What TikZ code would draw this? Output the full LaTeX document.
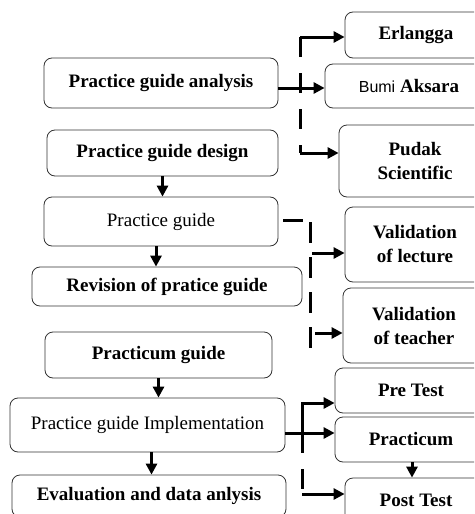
\documentclass[tikz,border=0pt]{standalone}
\usepackage{fontspec}
\setmainfont{Liberation Serif}
\newfontfamily\bumifont{Liberation Sans}
\usetikzlibrary{arrows.meta,positioning}
\tikzset{
  stage/.style={draw=black!80, line width=0.8pt, rounded corners=8pt, align=center,
    inner sep=0pt, font=\fontsize{19}{24}\selectfont\bfseries},
  plain/.style={font=\fontsize{19}{24}\selectfont},
  bus/.style={line width=3pt},
  busdash/.style={bus, dash pattern=on 20pt off 16pt},
  arrow/.style={bus, -{Triangle[length=11pt,width=11pt]}}
}
\begin{document}
\begin{tikzpicture}[x=1pt, y=-1pt]
            \useasboundingbox (0,0) rectangle (474,514);
            \clip (0,0) rectangle (474,514);
            % left column
            \node(an) [stage, minimum width=234pt, minimum height=50pt] at (161,83) {Practice guide analysis};
            \node(de) [stage, minimum width=231pt, minimum height=46pt] at (162.5,153) {Practice guide design};
            \node(pg) [stage, plain, minimum width=234pt, minimum height=49pt] at (161,221.5) {Practice guide};
            \node(rv) [stage, minimum width=270pt, minimum height=39pt] at (167,286.5) {Revision of pratice guide};
            \node(pcg) [stage, minimum width=227pt, minimum height=46pt] at (158.5,355) {Practicum guide};
            \node(im) [stage, plain, minimum width=275pt, minimum height=54pt] at (147.5,425) {Practice guide Implementation};
            \node(ev) [stage, minimum width=274pt, minimum height=42pt] at (149,496) {Evaluation and data anlysis};
            % right column
            \node(erl) [stage, minimum width=142pt, minimum height=46pt] at (416,35) {Erlangga};
            \node(bumi) [stage, minimum width=168pt, minimum height=44pt] at (409,86) {{\bumifont\mdseries\fontsize{16}{20}\selectfont Bumi} Aksara};
            \node(pud) [stage, minimum width=152pt, minimum height=72pt] at (415,161) {Pudak\\Scientific};
            \node(vl) [stage, minimum width=140pt, minimum height=75pt] at (415,244.5) {Validation\\of lecture};
            \node(vt) [stage, minimum width=142pt, minimum height=75pt] at (414,325.5) {Validation\\of teacher};
            \node(pre) [stage, minimum width=152pt, minimum height=45pt] at (411,390.5) {Pre Test};
            \node(prac) [stage, minimum width=152pt, minimum height=45pt] at (411,439.5) {Practicum};
            \node(post) [stage, minimum width=142pt, minimum height=44pt] at (416,500) {Post Test};
            % down arrows
            \draw[arrow](de.south) to (de.south |- pg.north);
            \draw[arrow]([xshift=-5pt]pg.south) to ([xshift=-5pt]pg.south |- rv.north);
            \draw[arrow](pcg.south) to (pcg.south |- im.north);
            \draw[arrow]([xshift=4pt]im.south) to ([xshift=4pt]im.south |- ev.north);
            \draw[arrow]([xshift=-4pt]post.north |- prac.south) to ([xshift=-4pt]post.north);
            % books
            \coordinate(u0) at (300,88);
            \coordinate(u1) at (300,37);
            \coordinate(u2) at (300,153);
            \draw[busdash](u1) -- (u2);
            \draw[arrow](an.east |- u0) to (bumi.west |- u0);
            \draw[arrow](u1) to (erl.west |- u1);
            \draw[arrow](u2) to (pud.west |- u2);
            % validation
            \coordinate(m0) at (303,220);
            \coordinate(m1) at (310,222);
            \coordinate(m2) at (310,348);
            \coordinate(m3) at (312,253);
            \coordinate(m4) at (315,333);
            \draw[bus]([xshift=5pt]pg.east |- m0) -- (m0);
            \draw[bus, dash pattern=on 21pt off 14pt](m1) -- (m2);
            \draw[arrow](m3) to (vl.west |- m3);
            \draw[arrow](m4) to (vt.west |- m4);
            % implementation
            \coordinate(l0) at (302,433);
            \coordinate(l1) at (302,403);
            \coordinate(l2) at (302,494);
            \draw[arrow](im.east |- l0) to (prac.west |- l0);
            \draw[arrow](l0) -- (l1) -- (pre.west |- l1);
            \draw[busdash](l0) -- (l2);
            \draw[arrow](l2) to (post.west |- l2);
            \end{tikzpicture}
\end{document}
